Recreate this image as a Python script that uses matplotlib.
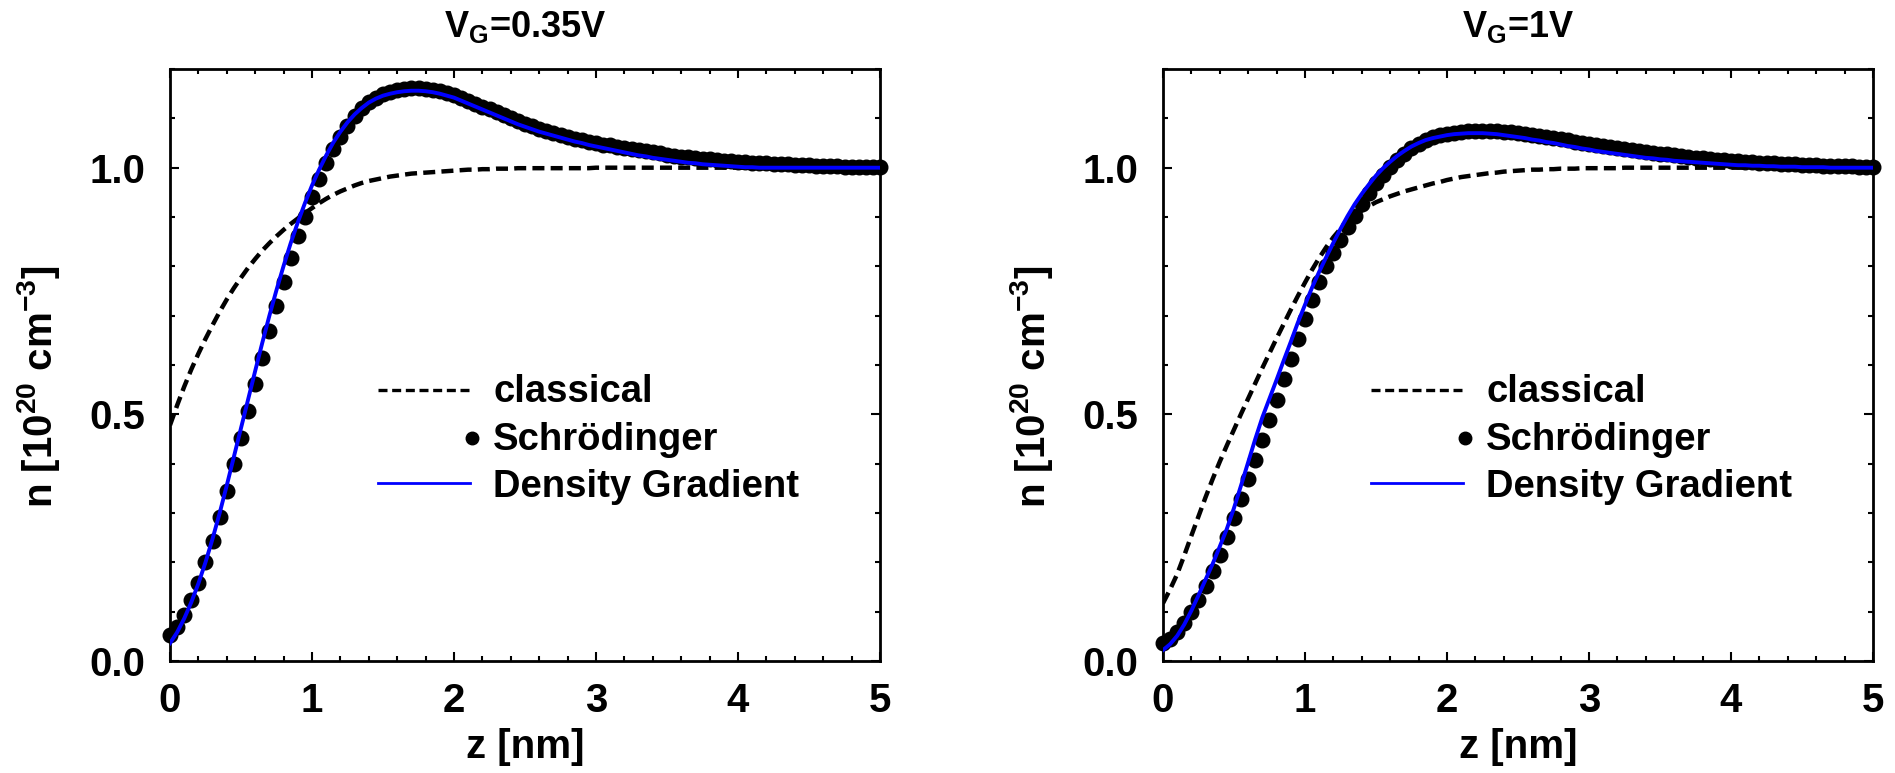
import numpy as np
import matplotlib.pyplot as plt
from matplotlib.ticker import MultipleLocator, FormatStrFormatter

plt.rcParams["font.family"] = "Liberation Sans"
plt.rcParams["font.weight"] = "bold"
plt.rcParams["axes.labelweight"] = "bold"
plt.rcParams["mathtext.fontset"] = "custom"
plt.rcParams["mathtext.bf"] = "Liberation Sans:bold"
plt.rcParams["mathtext.rm"] = "Liberation Sans:bold"
plt.rcParams["mathtext.default"] = "bf"

# depth below the interface, nm (0.05 nm mesh)
z = np.linspace(0, 5, 101)

# electron density, 1e20 cm^-3, gate bias 0.35 V
classical_035 = [
    0.478, 0.518, 0.556, 0.591, 0.623, 0.653, 0.681, 0.708, 0.733, 0.756,
    0.777, 0.797, 0.815, 0.832, 0.847, 0.861, 0.874, 0.886, 0.897, 0.908,
    0.918, 0.928, 0.937, 0.945, 0.952, 0.958, 0.964, 0.969, 0.973, 0.976,
    0.979, 0.982, 0.984, 0.986, 0.988, 0.989, 0.990, 0.991, 0.992, 0.993,
    0.994, 0.995, 0.996, 0.996, 0.997, 0.997, 0.998, 0.998, 0.998, 0.999,
    0.999, 0.999, 0.999, 0.999, 0.999, 0.999, 0.999, 0.999, 0.999, 0.999,
    1.000, 1.000, 1.000, 1.000, 1.000, 1.000, 1.000, 1.000, 1.000, 1.000,
    1.000, 1.000, 1.000, 1.000, 1.000, 1.000, 1.000, 1.000, 1.000, 1.000,
    1.000, 1.000, 1.000, 1.000, 1.000, 1.000, 1.000, 1.000, 1.000, 1.000,
    1.000, 1.000, 1.000, 1.000, 1.000, 1.000, 1.000, 1.000, 1.000, 1.000,
    1.000,
]
schroedinger_035 = [
    0.053, 0.069, 0.094, 0.124, 0.159, 0.200, 0.244, 0.292, 0.345, 0.399,
    0.453, 0.507, 0.561, 0.615, 0.668, 0.720, 0.768, 0.817, 0.862, 0.901,
    0.940, 0.977, 1.010, 1.038, 1.063, 1.084, 1.104, 1.121, 1.133, 1.142,
    1.149, 1.154, 1.158, 1.160, 1.161, 1.161, 1.160, 1.158, 1.155, 1.151,
    1.147, 1.142, 1.136, 1.130, 1.124, 1.118, 1.112, 1.106, 1.100, 1.094,
    1.089, 1.084, 1.079, 1.075, 1.071, 1.067, 1.063, 1.059, 1.056, 1.053,
    1.050, 1.047, 1.045, 1.042, 1.040, 1.037, 1.035, 1.033, 1.031, 1.029,
    1.026, 1.024, 1.022, 1.021, 1.019, 1.018, 1.017, 1.015, 1.014, 1.013,
    1.012, 1.011, 1.010, 1.009, 1.009, 1.008, 1.007, 1.007, 1.006, 1.005,
    1.005, 1.004, 1.004, 1.003, 1.003, 1.002, 1.002, 1.002, 1.001, 1.001,
    1.001,
]
density_gradient_035 = [
    0.036, 0.058, 0.086, 0.119, 0.157, 0.200, 0.248, 0.300, 0.356, 0.414,
    0.472, 0.530, 0.588, 0.645, 0.700, 0.752, 0.801, 0.847, 0.889, 0.928,
    0.964, 0.996, 1.025, 1.051, 1.073, 1.092, 1.108, 1.121, 1.132, 1.140,
    1.146, 1.150, 1.153, 1.155, 1.156, 1.156, 1.155, 1.153, 1.150, 1.146,
    1.142, 1.136, 1.130, 1.124, 1.118, 1.112, 1.106, 1.100, 1.094, 1.088,
    1.083, 1.078, 1.073, 1.069, 1.065, 1.061, 1.057, 1.053, 1.050, 1.046,
    1.043, 1.040, 1.037, 1.034, 1.031, 1.028, 1.025, 1.023, 1.020, 1.018,
    1.016, 1.014, 1.012, 1.010, 1.009, 1.007, 1.006, 1.005, 1.004, 1.003,
    1.002, 1.001, 1.001, 1.000, 1.000, 1.000, 1.000, 1.000, 1.000, 1.000,
    1.000, 1.000, 1.000, 1.000, 1.000, 1.000, 1.000, 1.000, 1.000, 1.000,
    1.000,
]

# electron density, 1e20 cm^-3, gate bias 1 V
classical_1 = [
    0.117, 0.145, 0.176, 0.214, 0.254, 0.293, 0.332, 0.369, 0.404, 0.437,
    0.469, 0.501, 0.532, 0.563, 0.594, 0.624, 0.654, 0.683, 0.712, 0.740,
    0.767, 0.793, 0.817, 0.839, 0.859, 0.876, 0.891, 0.903, 0.913, 0.922,
    0.930, 0.936, 0.942, 0.947, 0.952, 0.956, 0.960, 0.964, 0.968, 0.971,
    0.975, 0.978, 0.981, 0.983, 0.985, 0.987, 0.989, 0.990, 0.992, 0.993,
    0.994, 0.995, 0.996, 0.996, 0.997, 0.997, 0.998, 0.998, 0.998, 0.999,
    0.999, 0.999, 0.999, 0.999, 0.999, 1.000, 1.000, 1.000, 1.000, 1.000,
    1.000, 1.000, 1.000, 1.000, 1.000, 1.000, 1.000, 1.000, 1.000, 1.000,
    1.000, 1.000, 1.000, 1.000, 1.000, 1.000, 1.000, 1.000, 1.000, 1.000,
    1.000, 1.000, 1.000, 1.000, 1.000, 1.000, 1.000, 1.000, 1.000, 1.000,
    1.000,
]
schroedinger_1 = [
    0.036, 0.044, 0.059, 0.077, 0.099, 0.124, 0.152, 0.183, 0.215, 0.252,
    0.290, 0.329, 0.368, 0.408, 0.448, 0.489, 0.530, 0.571, 0.612, 0.653,
    0.693, 0.732, 0.768, 0.800, 0.828, 0.854, 0.879, 0.903, 0.926, 0.948,
    0.968, 0.986, 1.002, 1.016, 1.028, 1.039, 1.048, 1.056, 1.062, 1.066,
    1.069, 1.071, 1.073, 1.074, 1.075, 1.075, 1.075, 1.074, 1.073, 1.072,
    1.070, 1.068, 1.066, 1.064, 1.062, 1.060, 1.058, 1.056, 1.053, 1.051,
    1.049, 1.046, 1.044, 1.042, 1.040, 1.038, 1.036, 1.034, 1.032, 1.030,
    1.028, 1.027, 1.025, 1.023, 1.022, 1.020, 1.019, 1.018, 1.016, 1.015,
    1.014, 1.013, 1.012, 1.011, 1.010, 1.009, 1.009, 1.008, 1.007, 1.007,
    1.006, 1.005, 1.005, 1.004, 1.004, 1.003, 1.003, 1.003, 1.002, 1.002,
    1.002,
]
density_gradient_1 = [
    0.022, 0.034, 0.051, 0.074, 0.102, 0.133, 0.165, 0.197, 0.232, 0.268,
    0.310, 0.356, 0.403, 0.450, 0.494, 0.532, 0.570, 0.609, 0.647, 0.686,
    0.722, 0.757, 0.789, 0.819, 0.848, 0.876, 0.902, 0.926, 0.947, 0.966,
    0.984, 0.999, 1.012, 1.024, 1.034, 1.043, 1.050, 1.056, 1.060, 1.063,
    1.066, 1.068, 1.069, 1.070, 1.070, 1.070, 1.069, 1.068, 1.066, 1.064,
    1.062, 1.060, 1.057, 1.055, 1.052, 1.050, 1.047, 1.044, 1.042, 1.039,
    1.037, 1.034, 1.032, 1.030, 1.028, 1.026, 1.024, 1.022, 1.020, 1.019,
    1.017, 1.016, 1.014, 1.013, 1.012, 1.011, 1.010, 1.009, 1.008, 1.007,
    1.006, 1.005, 1.005, 1.004, 1.004, 1.003, 1.003, 1.002, 1.002, 1.002,
    1.001, 1.001, 1.001, 1.001, 1.000, 1.000, 1.000, 1.000, 1.000, 1.000,
    1.000,
]

titles = [r"$V_G$=0.35V", r"$V_G$=1V"]
labels = ["classical", "Schrödinger", "Density Gradient"]

fig = plt.figure(figsize=(18.95, 7.73), dpi=100)

panels = [
    (0.0897, titles[0], classical_035, schroedinger_035, density_gradient_035),
    (0.6137, titles[1], classical_1, schroedinger_1, density_gradient_1),
]

for left, title, cl, sch, dg in panels:
    ax = fig.add_axes([left, 0.1449, 0.3747, 0.7658])

    ax.plot(z, cl, color="black", lw=3.2, dashes=(2.7, 1.4), zorder=2)
    ax.plot(z, sch, "o", color="black", ms=10.5, clip_on=False, zorder=3)
    ax.plot(z, dg, color="blue", lw=2.8, zorder=4)

    # key, drawn by hand so the dot sits at the end of its sample
    ax.plot([0.293, 0.4225], [0.458, 0.458], color="black", lw=2.4,
            dashes=(2.7, 1.4), transform=ax.transAxes, clip_on=False)
    ax.plot([0.4249], [0.376], "o", color="black", ms=9,
            transform=ax.transAxes, clip_on=False)
    ax.plot([0.293, 0.4225], [0.300, 0.300], color="blue", lw=2.0,
            transform=ax.transAxes, clip_on=False)
    for ty, text in zip([0.438, 0.3564, 0.2775], labels):
        ax.text(0.455, ty, text, transform=ax.transAxes, fontsize=27.5,
                va="baseline", ha="left")

    ax.text(0.5, 1.0546, title, transform=ax.transAxes, fontsize=26,
            ha="center", va="baseline")

    ax.set_xlim(0, 5)
    ax.set_ylim(0, 1.2)
    ax.xaxis.set_major_locator(MultipleLocator(1))
    ax.xaxis.set_minor_locator(MultipleLocator(0.2))
    ax.yaxis.set_major_locator(MultipleLocator(0.5))
    ax.yaxis.set_minor_locator(MultipleLocator(0.1))
    ax.xaxis.set_major_formatter(FormatStrFormatter("%d"))
    ax.yaxis.set_major_formatter(FormatStrFormatter("%.1f"))

    ax.tick_params(which="both", direction="in", top=True, right=True,
                   width=1.5, labelsize=29)
    ax.tick_params(which="major", length=6.5)
    ax.tick_params(which="minor", length=3.6)
    ax.tick_params(axis="y", pad=18)
    ax.tick_params(axis="x", pad=15)
    for s in ax.spines.values():
        s.set_linewidth(2.0)

    ax.set_xlabel("z [nm]", fontsize=29)
    ax.set_ylabel(r"n [10$^{20}$ cm$^{-3}$]", fontsize=29)
    ax.xaxis.set_label_coords(0.5, -0.113)
    ax.yaxis.set_label_coords(-0.152, 0.463)

fig.savefig("out.png", dpi=100)
